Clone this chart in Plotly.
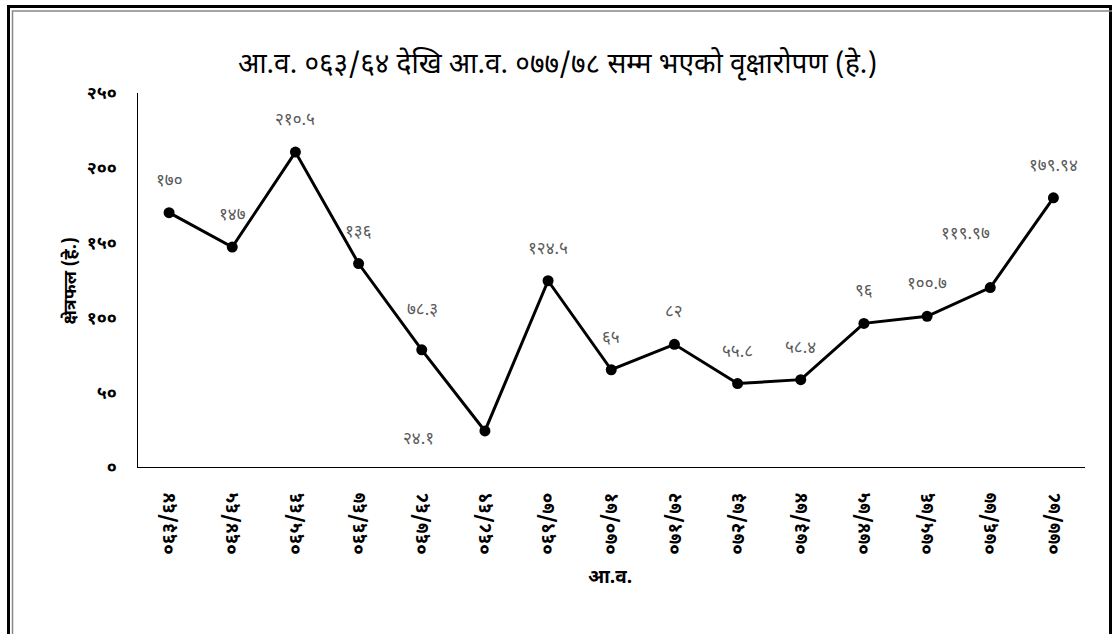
import plotly.graph_objects as go

# ---- data ----
categories = ["०६३/६४", "०६४/६५", "०६५/६६", "०६६/६७", "०६७/६८", "०६८/६९", "०६९/७०",
              "०७०/७१", "०७१/७२", "०७२/७३", "०७३/७४", "०७४/७५", "०७५/७६", "०७६/७७", "०७७/७८"]
values = [170, 147, 210.5, 136, 78.3, 24.1, 124.5, 65, 82, 55.8, 58.4, 96, 100.7, 119.97, 179.94]
y_tick_values = [0, 50, 100, 150, 200, 250]

title_text = "आ.व. ०६३/६४ देखि आ.व. ०७७/७८ सम्म भएको वृक्षारोपण (हे.)"
y_title = "क्षेत्रफल (हे.)"
x_title = "आ.व."

DEV = str.maketrans("0123456789", "०१२३४५६७८९")


def dev(v):
    return ("%g" % v).translate(DEV)


# label offsets (pixels) – style only
label_shift = {5: (-66, -40), 13: (-25, 22), 4: (1, 8)}

W, H = 1112, 634
FONT = "Noto Sans Devanagari, Lohit Devanagari, FreeSans, Noto Sans, sans-serif"

fig = go.Figure()
fig.add_trace(go.Scatter(
    x=categories, y=values, mode="lines+markers",
    line=dict(color="black", width=3),
    marker=dict(color="black", size=11),
    hoverinfo="skip", showlegend=False,
))

for i, (c, v) in enumerate(zip(categories, values)):
    dx, dy = label_shift.get(i, (0, 0))
    fig.add_annotation(x=c, y=v, text=dev(v), showarrow=False,
                       xshift=dx, yshift=31 + dy,
                       font=dict(size=17, color="#595959", family=FONT))

px0, px1 = 137.5, 1085
py0, py1 = 467, 93

fig.update_layout(
    width=W, height=H,
    margin=dict(l=0, r=0, t=0, b=0),
    paper_bgcolor="white", plot_bgcolor="white",
    font=dict(family=FONT, color="black"),
    xaxis=dict(
        domain=[px0 / W, px1 / W], type="category",
        range=[-0.5, len(categories) - 0.5],
        showgrid=False, zeroline=False, showline=True, linecolor="black", linewidth=1,
        ticks="", tickangle=-90, automargin=False, ticklabelstandoff=17,
        tickvals=categories, ticktext=["<b>" + c + "</b>" for c in categories],
        tickfont=dict(size=19, color="black", family=FONT),
    ),
    yaxis=dict(
        domain=[1 - py0 / H, 1 - py1 / H], range=[0, 250],
        tickvals=y_tick_values, ticktext=["<b>" + dev(v) + "</b>" for v in y_tick_values],
        showgrid=False, zeroline=False, showline=True, linecolor="black", linewidth=1,
        ticks="", automargin=False, ticklabelstandoff=16,
        tickfont=dict(size=18, color="black", family=FONT),
    ),
    shapes=[
        dict(type="rect", xref="paper", yref="paper", x0=8.5 / W, x1=1110.5 / W, y0=-0.05, y1=1 - 6.5 / H,
             line=dict(color="black", width=3)),
        dict(type="rect", xref="paper", yref="paper", x0=12.5 / W, x1=1150 / W, y0=-0.05, y1=1 - 11 / H,
             line=dict(color="#888888", width=1.5)),
    ],
)

fig.add_annotation(xref="paper", yref="paper", x=557 / W, y=1 - 45 / H, text=title_text,
                   showarrow=False, font=dict(size=28, color="black", family=FONT))
fig.add_annotation(xref="paper", yref="paper", x=57 / W, y=1 - 281 / H, text="<b>" + y_title + "</b>",
                   textangle=-90, showarrow=False, font=dict(size=18, color="black", family=FONT))
fig.add_annotation(xref="paper", yref="paper", x=610 / W, y=1 - 593 / H, text="<b>" + x_title + "</b>",
                   showarrow=False, font=dict(size=19, color="black", family=FONT))

fig.write_html("out.html", config={"displayModeBar": False},
               post_script="document.body.style.margin='0';document.body.style.overflow='hidden';")
